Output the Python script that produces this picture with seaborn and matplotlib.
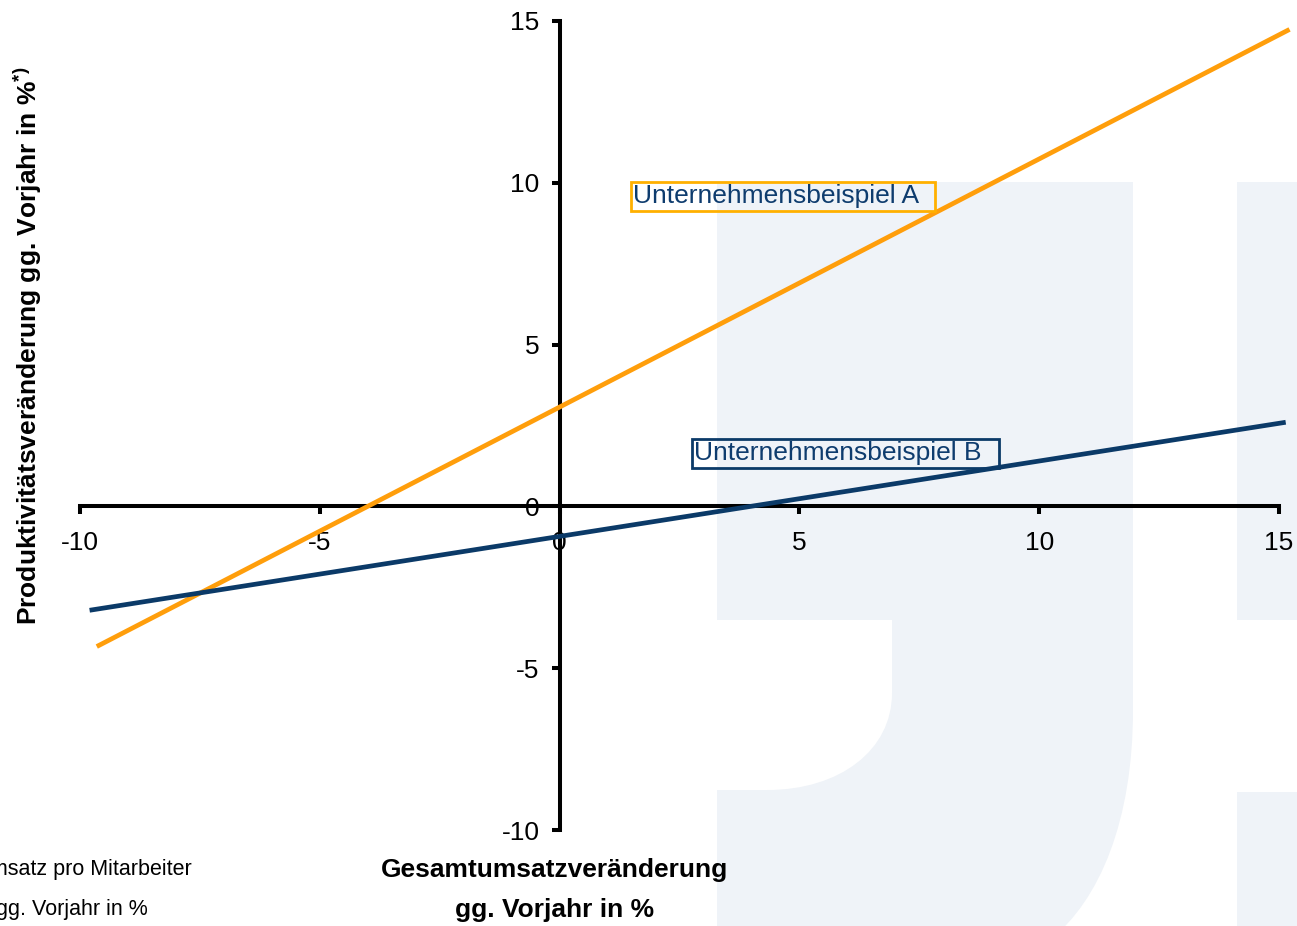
import matplotlib
matplotlib.use("Agg")
import matplotlib.pyplot as plt
from matplotlib.patches import Rectangle, PathPatch
from matplotlib.path import Path
import seaborn as sns
import pandas as pd

# --- data -------------------------------------------------------------
series_names = ["Unternehmensbeispiel A", "Unternehmensbeispiel B"]
x_a = [-9.65, 15.22]
y_a = [-4.33, 14.74]
x_b = [-9.80, 15.14]
y_b = [-3.21, 2.60]
x_ticks = [-10, -5, 0, 5, 10, 15]
y_ticks = [-10, -5, 0, 5, 10, 15]

ORANGE = "#FF9E0B"
ORANGE_BOX = "#FFB000"
NAVY = "#0B3A68"
TEXT_NAVY = "#0E3C6E"
WM = "#EFF3F8"

df = pd.DataFrame({
    "x": x_a + x_b,
    "y": y_a + y_b,
    "serie": [series_names[0]] * len(x_a) + [series_names[1]] * len(x_b),
})

sns.set_theme(style="white")
plt.rcParams["font.family"] = ["Liberation Sans", "DejaVu Sans"]
plt.rcParams["mathtext.fontset"] = "custom"
plt.rcParams["mathtext.rm"] = "Liberation Sans"
plt.rcParams["mathtext.bf"] = "Liberation Sans:bold"

W, H = 1297, 926
fig = plt.figure(figsize=(W / 100, H / 100), dpi=100)
fig.patch.set_facecolor("white")

# --- background logo shapes (pixel coordinates) -----------------------
bg = fig.add_axes([0, 0, 1, 1], zorder=0)
bg.set_xlim(0, W)
bg.set_ylim(H, 0)
bg.axis("off")
# J-shaped block with a rounded notch on its lower left
verts = [
    (717, 182), (1133, 182), (1133, 710),
    (1133, 820), (1100, 900), (1050, 940),
    (717, 940), (717, 790), (767, 790),
    (840, 790), (892, 750), (892, 693),
    (892, 620), (717, 620), (717, 182),
]
codes = [
    Path.MOVETO, Path.LINETO, Path.LINETO,
    Path.CURVE4, Path.CURVE4, Path.CURVE4,
    Path.LINETO, Path.LINETO, Path.LINETO,
    Path.CURVE4, Path.CURVE4, Path.CURVE4,
    Path.LINETO, Path.LINETO, Path.CLOSEPOLY,
]
bg.add_patch(PathPatch(Path(verts, codes), facecolor=WM, edgecolor="none"))
bg.add_patch(Rectangle((1237, 182), 70, 438, facecolor=WM, edgecolor="none"))
bg.add_patch(Rectangle((1237, 792), 70, 140, facecolor=WM, edgecolor="none"))

# --- main axes --------------------------------------------------------
ax = fig.add_axes([80 / W, 1 - 830 / H, 1199 / W, 809 / H], zorder=1)
ax.set_facecolor("none")

sns.lineplot(data=df, x="x", y="y", hue="serie",
             palette={series_names[0]: ORANGE, series_names[1]: NAVY},
             linewidth=3.4, legend=False, ax=ax, sort=False)
for ln in ax.get_lines():
    ln.set_clip_on(False)
    ln.set_solid_capstyle("butt")
    ln.set_zorder(3)

ax.set_xlim(-10, 15)
ax.set_ylim(-10, 15)
ax.set_xticks(x_ticks)
ax.set_yticks(y_ticks)
ax.set_xticklabels([str(v) for v in x_ticks])
ax.set_yticklabels([str(v) for v in y_ticks])

for side in ["top", "right"]:
    ax.spines[side].set_visible(False)
ax.spines["left"].set_position(("data", 0))
ax.spines["bottom"].set_position(("data", 0))
for side in ["left", "bottom"]:
    ax.spines[side].set_color("black")
    ax.spines[side].set_linewidth(2.9)

ax.tick_params(axis="both", direction="out", length=5.5, width=2.9,
               color="black", labelsize=19, labelcolor="black",
               bottom=True, left=True)
ax.tick_params(axis="x", pad=12)
ax.tick_params(axis="y", pad=9)
ax.set_xlabel("")
ax.set_ylabel("")

# the y label "0" sits on the horizontal axis and masks it
for lab in ax.get_yticklabels():
    if lab.get_text() == "0":
        lab.set_bbox(dict(fc="white", ec="none", pad=1.5))

# series labels
ax.text(1.54, 9.58, series_names[0] + "  ", color=TEXT_NAVY, fontsize=19,
        ha="left", va="center", zorder=4,
        bbox=dict(boxstyle="square,pad=0.1", fc="none", ec=ORANGE_BOX, lw=2))
ax.text(2.81, 1.64, series_names[1] + "  ", color=TEXT_NAVY, fontsize=19,
        ha="left", va="center", zorder=4,
        bbox=dict(boxstyle="square,pad=0.1", fc="none", ec=NAVY, lw=2))

# axis titles
fig.text(28 / W, 1 - 346 / H,
         r"Produktivitätsveränderung gg. Vorjahr in %$^{\mathbf{*)}}$",
         rotation=90, ha="center", va="center", fontsize=19,
         fontweight="bold", color="black")
fig.text(555 / W, 1 - 870 / H, "Gesamtumsatzveränderung", ha="center",
         va="center", fontsize=19, fontweight="bold", color="black")
fig.text(555 / W, 1 - 910 / H, "gg. Vorjahr in %", ha="center",
         va="center", fontsize=19, fontweight="bold", color="black")

# footnote
fig.text(192 / W, 1 - 870 / H, "*) Umsatz pro Mitarbeiter", ha="right",
         va="center", fontsize=15.5, color="black")
fig.text(148 / W, 1 - 910 / H, "gg. Vorjahr in %", ha="right",
         va="center", fontsize=15.5, color="black")

fig.savefig("out.png", dpi=100)
